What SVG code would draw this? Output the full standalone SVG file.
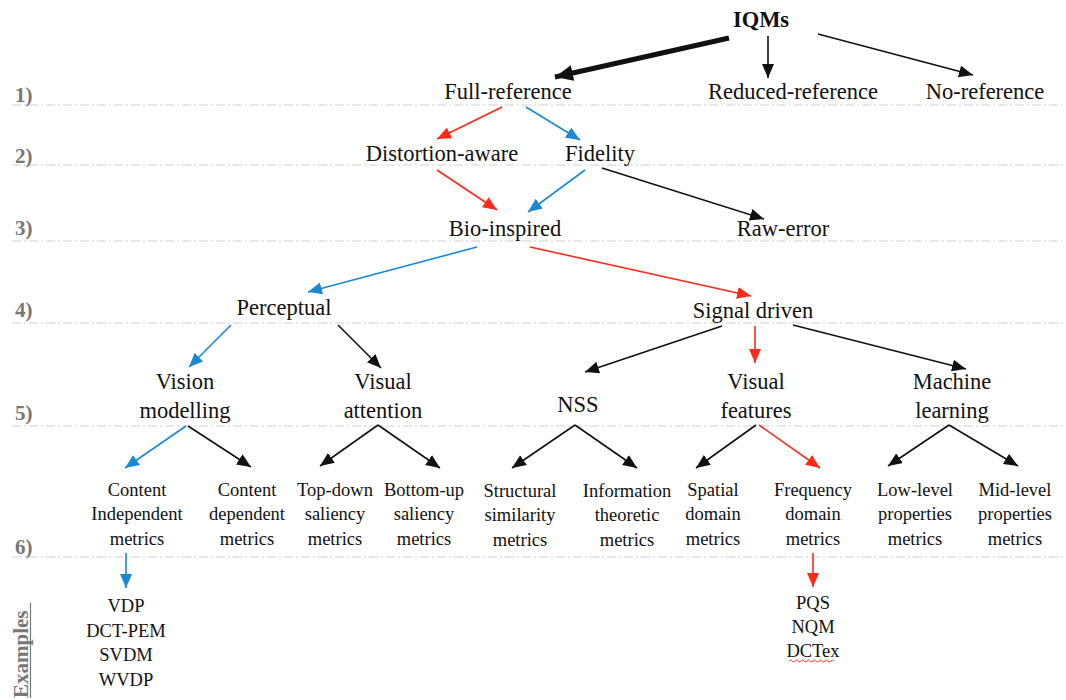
<svg xmlns="http://www.w3.org/2000/svg" width="1066" height="700" viewBox="0 0 1066 700" font-family="'Liberation Serif', 'Times New Roman', serif">
<style>
text{font-family:'Liberation Serif','Times New Roman',serif;fill:#111}
.n{font-size:22.5px;text-anchor:middle}
.s{font-size:18.5px;text-anchor:middle}
.lv{font-size:21px;font-weight:bold;fill:#777}
.grid{stroke:#cfcfcf;stroke-width:1.2;stroke-dasharray:9 3 2 3;fill:none}
.k{stroke:#111;stroke-width:1.6;fill:none;marker-end:url(#ak)}
.r{stroke:#ff2a1a;stroke-width:1.6;fill:none;marker-end:url(#ar)}
.b{stroke:#1b88d4;stroke-width:1.6;fill:none;marker-end:url(#ab)}
</style>
<defs>
<marker id="ak" markerUnits="userSpaceOnUse" markerWidth="16" markerHeight="14" refX="14" refY="6" orient="auto"><path d="M0,0 L14,6 L0,12 Z" fill="#111"/></marker>
<marker id="ar" markerUnits="userSpaceOnUse" markerWidth="16" markerHeight="14" refX="14" refY="6" orient="auto"><path d="M0,0 L14,6 L0,12 Z" fill="#ff2a1a"/></marker>
<marker id="ab" markerUnits="userSpaceOnUse" markerWidth="16" markerHeight="14" refX="14" refY="6" orient="auto"><path d="M0,0 L14,6 L0,12 Z" fill="#1b88d4"/></marker>
<marker id="akb" markerUnits="userSpaceOnUse" markerWidth="20" markerHeight="18" refX="18" refY="8" orient="auto"><path d="M0,0 L18,8 L0,16 Z" fill="#111"/></marker>
</defs>
<rect width="1066" height="700" fill="#ffffff"/>
<g id="levels">
<path class="grid" d="M12,105H1066M12,165H1066M12,241H1066M12,323H1066M12,426H1066M12,557H1066"/>
<text class="lv" x="15" y="102">1)</text>
<text class="lv" x="15" y="163">2)</text>
<text class="lv" x="15" y="235">3)</text>
<text class="lv" x="15" y="317">4)</text>
<text class="lv" x="15" y="420">5)</text>
<text class="lv" x="15" y="554">6)</text>
<text class="lv" transform="translate(28,698) rotate(-90)" font-size="23.5">Examples</text>
<line x1="30.5" y1="603" x2="30.5" y2="698" stroke="#777" stroke-width="1.2"/>
</g>
<g id="connectors">
<line x1="729" y1="38" x2="555" y2="77" stroke="#111" stroke-width="5" marker-end="url(#akb)"/>
<line class="k" x1="768" y1="36" x2="768" y2="78"/>
<line class="k" x1="818" y1="34" x2="973" y2="75"/>
<line class="r" x1="502" y1="107" x2="437" y2="139"/>
<line class="b" x1="526" y1="107" x2="580" y2="140"/>
<line class="r" x1="437" y1="170" x2="497" y2="210"/>
<line class="b" x1="585" y1="170" x2="528" y2="212"/>
<line class="k" x1="602" y1="168" x2="764" y2="219"/>
<line class="b" x1="477" y1="247" x2="308" y2="292"/>
<line class="r" x1="530" y1="247" x2="751" y2="296"/>
<line class="b" x1="231" y1="325" x2="189" y2="367"/>
<line class="k" x1="338" y1="325" x2="381" y2="368"/>
<line class="k" x1="722" y1="326" x2="585" y2="372"/>
<line class="r" x1="755" y1="326" x2="755" y2="363"/>
<line class="k" x1="793" y1="325" x2="966" y2="369"/>
<line class="b" x1="186" y1="426" x2="125" y2="468"/>
<line class="k" x1="188" y1="426" x2="251" y2="467"/>
<line class="k" x1="378" y1="425" x2="320" y2="466"/>
<line class="k" x1="378" y1="425" x2="440" y2="468"/>
<line class="k" x1="575" y1="425" x2="512" y2="468"/>
<line class="k" x1="575" y1="425" x2="637" y2="468"/>
<line class="k" x1="756" y1="425" x2="696" y2="468"/>
<line class="r" x1="759" y1="425" x2="820" y2="468"/>
<line class="k" x1="949" y1="425" x2="888" y2="466"/>
<line class="k" x1="949" y1="425" x2="1018" y2="466"/>
<line class="b" x1="126" y1="553" x2="126" y2="588"/>
<line class="r" x1="813" y1="553" x2="813" y2="587"/>
</g>
<g id="n-iqms"><text class="n" x="761" y="27" font-size="28" font-weight="bold">IQMs</text></g>
<g id="n-full"><text class="n" x="508" y="99">Full-reference</text></g>
<g id="n-reduced"><text class="n" x="793" y="99">Reduced-reference</text></g>
<g id="n-no"><text class="n" x="985" y="99">No-reference</text></g>
<g id="n-distortion"><text class="n" x="442" y="161">Distortion-aware</text></g>
<g id="n-fidelity"><text class="n" x="600" y="161">Fidelity</text></g>
<g id="n-bio"><text class="n" x="505" y="236">Bio-inspired</text></g>
<g id="n-raw"><text class="n" x="783" y="236">Raw-error</text></g>
<g id="n-perceptual"><text class="n" x="284" y="315">Perceptual</text></g>
<g id="n-signal"><text class="n" x="753" y="318">Signal driven</text></g>
<g id="n-vision"><text class="n" x="185" y="389">Vision</text><text class="n" x="185" y="418">modelling</text></g>
<g id="n-attention"><text class="n" x="383" y="389">Visual</text><text class="n" x="383" y="418">attention</text></g>
<g id="n-nss"><text class="n" x="578" y="412">NSS</text></g>
<g id="n-features"><text class="n" x="756" y="389">Visual</text><text class="n" x="756" y="418">features</text></g>
<g id="n-ml"><text class="n" x="952" y="389">Machine</text><text class="n" x="952" y="418">learning</text></g>
<g id="n-ci"><text class="s" x="137" y="496">Content</text><text class="s" x="137" y="520">Independent</text><text class="s" x="137" y="545">metrics</text></g>
<g id="n-cd"><text class="s" x="247" y="496">Content</text><text class="s" x="247" y="520">dependent</text><text class="s" x="247" y="545">metrics</text></g>
<g id="n-td"><text class="s" x="335" y="496">Top-down</text><text class="s" x="335" y="520">saliency</text><text class="s" x="335" y="545">metrics</text></g>
<g id="n-bu"><text class="s" x="424" y="496">Bottom-up</text><text class="s" x="424" y="520">saliency</text><text class="s" x="424" y="545">metrics</text></g>
<g id="n-ss"><text class="s" x="520" y="497">Structural</text><text class="s" x="520" y="521">similarity</text><text class="s" x="520" y="546">metrics</text></g>
<g id="n-it"><text class="s" x="627" y="497">Information</text><text class="s" x="627" y="521">theoretic</text><text class="s" x="627" y="546">metrics</text></g>
<g id="n-sd"><text class="s" x="713" y="496">Spatial</text><text class="s" x="713" y="520">domain</text><text class="s" x="713" y="545">metrics</text></g>
<g id="n-fd"><text class="s" x="813" y="496">Frequency</text><text class="s" x="813" y="520">domain</text><text class="s" x="813" y="545">metrics</text></g>
<g id="n-ll"><text class="s" x="915" y="496">Low-level</text><text class="s" x="915" y="520">properties</text><text class="s" x="915" y="545">metrics</text></g>
<g id="n-ml2"><text class="s" x="1015" y="496">Mid-level</text><text class="s" x="1015" y="520">properties</text><text class="s" x="1015" y="545">metrics</text></g>
<g id="n-ex1"><text class="s" x="126" y="612">VDP</text><text class="s" x="126" y="637">DCT-PEM</text><text class="s" x="126" y="661">SVDM</text><text class="s" x="126" y="686">WVDP</text></g>
<g id="n-ex2"><text class="s" x="813" y="609">PQS</text><text class="s" x="813" y="633">NQM</text><text class="s" x="813" y="657">DCTex</text>
<path d="M789,661 q1.5,-2 3,0 t3,0 t3,0 t3,0 t3,0 t3,0 t3,0 t3,0 t3,0 t3,0 t3,0 t3,0 t3,0 t3,0 t3,0" fill="none" stroke="#ff2a1a" stroke-width="0.9"/></g>
</svg>
